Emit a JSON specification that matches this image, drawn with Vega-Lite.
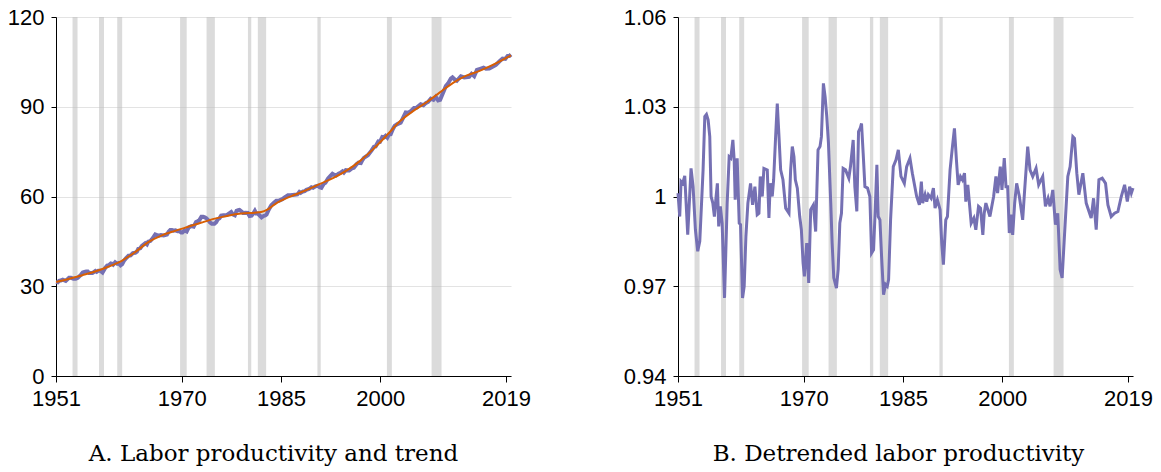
{
 "$schema": "https://vega.github.io/schema/vega-lite/v6.json",
 "background": "white",
 "padding": {"left": 7, "top": 6, "right": 5, "bottom": 5},
 "spacing": 167,
 "bounds": "flush",
 "datasets": {
  "rec": [{"s":1953.5,"e":1954.25},{"s":1957.5,"e":1958.25},{"s":1960.25,"e":1961.0},{"s":1969.75,"e":1970.75},{"s":1973.75,"e":1975.0},{"s":1980.0,"e":1980.5},{"s":1981.5,"e":1982.75},{"s":1990.5,"e":1991.0},{"s":2001.0,"e":2001.75},{"s":2007.75,"e":2009.25}],
  "trend": [{"t":1951,"v":31.4},{"t":1953,"v":32.5},{"t":1955,"v":33.7},{"t":1957,"v":35.0},{"t":1959,"v":36.6},{"t":1961,"v":38.6},{"t":1963,"v":41.5},{"t":1965,"v":44.8},{"t":1967,"v":47.0},{"t":1969,"v":48.5},{"t":1971,"v":49.9},{"t":1973,"v":51.3},{"t":1975,"v":52.6},{"t":1977,"v":53.6},{"t":1979,"v":54.3},{"t":1981,"v":54.6},{"t":1982,"v":54.8},{"t":1983,"v":55.7},{"t":1984,"v":57.3},{"t":1985,"v":58.6},{"t":1986,"v":59.6},{"t":1987,"v":60.5},{"t":1989,"v":62.3},{"t":1991,"v":64.3},{"t":1993,"v":66.3},{"t":1995,"v":68.8},{"t":1997,"v":72.0},{"t":1999,"v":76.0},{"t":2001,"v":80.5},{"t":2003,"v":85.2},{"t":2005,"v":88.6},{"t":2007,"v":91.5},{"t":2009,"v":94.8},{"t":2011,"v":98.0},{"t":2013,"v":100.4},{"t":2015,"v":102.0},{"t":2017,"v":104.0},{"t":2019.75,"v":107.2}],
  "prod": [{"t":1951.0,"v":31.4},{"t":1951.26,"v":31.3},{"t":1951.46,"v":31.8},{"t":1951.71,"v":31.9},{"t":1952.02,"v":32.2},{"t":1952.47,"v":31.8},{"t":1952.97,"v":32.8},{"t":1953.28,"v":32.8},{"t":1953.63,"v":32.5},{"t":1953.98,"v":32.5},{"t":1954.29,"v":32.8},{"t":1954.79,"v":33.9},{"t":1955.05,"v":34.6},{"t":1955.3,"v":34.8},{"t":1955.55,"v":34.9},{"t":1955.8,"v":34.9},{"t":1956.0,"v":34.4},{"t":1956.26,"v":34.4},{"t":1956.5,"v":34.4},{"t":1956.76,"v":34.8},{"t":1956.95,"v":35.1},{"t":1957.15,"v":34.8},{"t":1957.4,"v":35.2},{"t":1957.67,"v":35.2},{"t":1958.03,"v":34.6},{"t":1958.43,"v":36.1},{"t":1958.73,"v":36.9},{"t":1958.98,"v":37.0},{"t":1959.29,"v":37.6},{"t":1959.49,"v":37.5},{"t":1959.64,"v":37.2},{"t":1959.94,"v":38.0},{"t":1960.25,"v":37.5},{"t":1960.45,"v":37.7},{"t":1960.75,"v":37.0},{"t":1961.0,"v":37.4},{"t":1961.26,"v":38.5},{"t":1961.56,"v":39.3},{"t":1961.96,"v":40.2},{"t":1962.27,"v":40.3},{"t":1962.62,"v":41.1},{"t":1962.97,"v":41.2},{"t":1963.23,"v":41.6},{"t":1963.43,"v":42.5},{"t":1963.73,"v":42.7},{"t":1963.98,"v":43.5},{"t":1964.49,"v":44.4},{"t":1964.74,"v":44.0},{"t":1964.94,"v":44.9},{"t":1965.24,"v":45.1},{"t":1965.45,"v":45.6},{"t":1965.75,"v":46.5},{"t":1966.0,"v":47.3},{"t":1966.26,"v":47.1},{"t":1966.51,"v":46.9},{"t":1966.86,"v":47.1},{"t":1967.27,"v":47.0},{"t":1967.77,"v":47.3},{"t":1968.02,"v":48.2},{"t":1968.27,"v":48.8},{"t":1968.52,"v":48.8},{"t":1968.73,"v":48.6},{"t":1969.03,"v":48.7},{"t":1969.39,"v":48.4},{"t":1969.64,"v":48.4},{"t":1969.9,"v":48.0},{"t":1970.1,"v":48.0},{"t":1970.45,"v":48.7},{"t":1970.75,"v":48.3},{"t":1971.05,"v":49.7},{"t":1971.46,"v":50.1},{"t":1971.8,"v":49.9},{"t":1972.16,"v":51.5},{"t":1972.46,"v":51.8},{"t":1972.67,"v":52.1},{"t":1972.97,"v":53.2},{"t":1973.23,"v":53.2},{"t":1973.48,"v":53.0},{"t":1973.73,"v":52.7},{"t":1974.08,"v":51.9},{"t":1974.29,"v":51.3},{"t":1974.54,"v":50.9},{"t":1974.94,"v":50.9},{"t":1975.2,"v":51.4},{"t":1975.45,"v":52.4},{"t":1975.7,"v":52.7},{"t":1975.95,"v":53.6},{"t":1976.31,"v":53.7},{"t":1976.81,"v":53.8},{"t":1977.06,"v":54.2},{"t":1977.47,"v":54.8},{"t":1977.72,"v":54.0},{"t":1978.02,"v":53.7},{"t":1978.28,"v":55.2},{"t":1978.53,"v":55.4},{"t":1978.73,"v":55.5},{"t":1978.98,"v":55.1},{"t":1979.24,"v":54.5},{"t":1979.64,"v":54.6},{"t":1979.99,"v":54.5},{"t":1980.25,"v":53.5},{"t":1980.55,"v":53.6},{"t":1980.8,"v":54.3},{"t":1981.05,"v":55.2},{"t":1981.26,"v":54.3},{"t":1981.51,"v":54.3},{"t":1981.76,"v":53.7},{"t":1982.06,"v":53.0},{"t":1982.37,"v":53.5},{"t":1982.62,"v":53.7},{"t":1982.82,"v":54.0},{"t":1983.12,"v":55.5},{"t":1983.53,"v":57.1},{"t":1983.93,"v":57.9},{"t":1984.29,"v":58.6},{"t":1984.69,"v":58.6},{"t":1985.2,"v":59.1},{"t":1985.55,"v":59.7},{"t":1986.05,"v":60.4},{"t":1986.41,"v":60.4},{"t":1987.06,"v":60.6},{"t":1987.47,"v":60.7},{"t":1987.77,"v":61.5},{"t":1987.97,"v":61.2},{"t":1988.33,"v":61.7},{"t":1988.58,"v":61.8},{"t":1988.83,"v":62.2},{"t":1989.24,"v":62.5},{"t":1989.59,"v":63.1},{"t":1989.84,"v":62.9},{"t":1990.2,"v":63.4},{"t":1990.6,"v":63.6},{"t":1990.85,"v":63.1},{"t":1991.1,"v":62.9},{"t":1991.46,"v":64.3},{"t":1991.71,"v":64.6},{"t":1992.11,"v":66.0},{"t":1992.47,"v":66.9},{"t":1992.77,"v":67.6},{"t":1993.07,"v":67.2},{"t":1993.33,"v":67.0},{"t":1993.68,"v":67.6},{"t":1993.98,"v":67.9},{"t":1994.29,"v":68.4},{"t":1994.49,"v":68.0},{"t":1994.79,"v":68.8},{"t":1995.3,"v":68.7},{"t":1995.7,"v":69.4},{"t":1996.0,"v":69.6},{"t":1996.41,"v":70.8},{"t":1996.71,"v":71.3},{"t":1997.06,"v":71.2},{"t":1997.27,"v":72.1},{"t":1997.52,"v":72.9},{"t":1998.13,"v":73.8},{"t":1998.69,"v":75.4},{"t":1999.04,"v":76.6},{"t":1999.29,"v":76.7},{"t":1999.7,"v":78.4},{"t":1999.95,"v":78.3},{"t":2000.3,"v":79.9},{"t":2000.56,"v":79.8},{"t":2000.81,"v":80.3},{"t":2001.06,"v":79.7},{"t":2001.31,"v":80.7},{"t":2001.57,"v":80.8},{"t":2001.87,"v":82.4},{"t":2002.17,"v":83.6},{"t":2002.58,"v":84.2},{"t":2003.08,"v":84.7},{"t":2003.38,"v":86.0},{"t":2003.84,"v":88.1},{"t":2004.19,"v":88.0},{"t":2004.6,"v":88.5},{"t":2005.1,"v":89.6},{"t":2005.5,"v":89.7},{"t":2006.11,"v":90.8},{"t":2006.52,"v":90.5},{"t":2006.92,"v":91.3},{"t":2007.22,"v":91.6},{"t":2007.63,"v":92.7},{"t":2008.03,"v":92.3},{"t":2008.38,"v":93.3},{"t":2008.74,"v":92.1},{"t":2009.04,"v":92.3},{"t":2009.39,"v":94.2},{"t":2009.9,"v":96.9},{"t":2010.25,"v":97.8},{"t":2010.66,"v":99.4},{"t":2010.91,"v":99.8},{"t":2011.26,"v":99.1},{"t":2011.57,"v":98.7},{"t":2012.17,"v":100.2},{"t":2012.68,"v":99.8},{"t":2013.43,"v":100.0},{"t":2013.79,"v":101.0},{"t":2014.19,"v":100.2},{"t":2014.6,"v":102.3},{"t":2015.1,"v":102.7},{"t":2015.6,"v":103.1},{"t":2015.96,"v":102.7},{"t":2016.46,"v":102.8},{"t":2016.97,"v":103.4},{"t":2017.47,"v":104.0},{"t":2017.98,"v":105.1},{"t":2018.48,"v":106.1},{"t":2018.89,"v":106.0},{"t":2019.24,"v":107.0},{"t":2019.5,"v":107.0},{"t":2019.75,"v":107.5}],
  "detr": [{"t":1951.0,"v":1.0011},{"t":1951.26,"v":0.9933},{"t":1951.46,"v":1.005},{"t":1951.71,"v":1.0044},{"t":1952.02,"v":1.0069},{"t":1952.47,"v":0.9872},{"t":1952.97,"v":1.0094},{"t":1953.28,"v":1.0033},{"t":1953.63,"v":0.9889},{"t":1953.98,"v":0.9817},{"t":1954.29,"v":0.985},{"t":1954.79,"v":1.0089},{"t":1955.05,"v":1.0267},{"t":1955.3,"v":1.0274},{"t":1955.55,"v":1.0256},{"t":1955.8,"v":1.02},{"t":1956.0,"v":1.0},{"t":1956.26,"v":0.9978},{"t":1956.5,"v":0.9933},{"t":1956.76,"v":1.0},{"t":1956.95,"v":1.0044},{"t":1957.15,"v":0.99},{"t":1957.4,"v":0.9967},{"t":1957.67,"v":0.9911},{"t":1958.03,"v":0.9661},{"t":1958.43,"v":0.9978},{"t":1958.73,"v":1.0133},{"t":1958.98,"v":1.0128},{"t":1959.29,"v":1.0189},{"t":1959.49,"v":1.0122},{"t":1959.64,"v":0.9989},{"t":1959.94,"v":1.0128},{"t":1960.25,"v":0.9911},{"t":1960.45,"v":0.9906},{"t":1960.75,"v":0.9661},{"t":1961.0,"v":0.97},{"t":1961.26,"v":0.9867},{"t":1961.56,"v":0.9978},{"t":1961.96,"v":1.0044},{"t":1962.27,"v":0.9972},{"t":1962.62,"v":1.0033},{"t":1962.97,"v":0.9939},{"t":1963.23,"v":0.9944},{"t":1963.43,"v":1.0067},{"t":1963.73,"v":1.0},{"t":1963.98,"v":1.0094},{"t":1964.49,"v":1.0089},{"t":1964.74,"v":0.9928},{"t":1964.94,"v":1.0044},{"t":1965.24,"v":1.0},{"t":1965.45,"v":1.0056},{"t":1965.75,"v":1.02},{"t":1966.0,"v":1.0311},{"t":1966.26,"v":1.02},{"t":1966.51,"v":1.0089},{"t":1966.86,"v":1.0056},{"t":1967.27,"v":0.9961},{"t":1967.77,"v":0.9944},{"t":1968.02,"v":1.0089},{"t":1968.27,"v":1.0167},{"t":1968.52,"v":1.0133},{"t":1968.73,"v":1.0056},{"t":1969.03,"v":1.0028},{"t":1969.39,"v":0.9933},{"t":1969.64,"v":0.9889},{"t":1969.9,"v":0.9778},{"t":1970.1,"v":0.9733},{"t":1970.45,"v":0.9844},{"t":1970.75,"v":0.9711},{"t":1971.05,"v":0.9956},{"t":1971.46,"v":0.9972},{"t":1971.8,"v":0.9883},{"t":1972.16,"v":1.0156},{"t":1972.46,"v":1.0167},{"t":1972.67,"v":1.02},{"t":1972.97,"v":1.0378},{"t":1973.23,"v":1.0333},{"t":1973.48,"v":1.0267},{"t":1973.73,"v":1.018},{"t":1974.08,"v":0.9978},{"t":1974.29,"v":0.9844},{"t":1974.54,"v":0.9728},{"t":1974.94,"v":0.9694},{"t":1975.2,"v":0.9756},{"t":1975.45,"v":0.9911},{"t":1975.7,"v":0.9944},{"t":1975.95,"v":1.0094},{"t":1976.31,"v":1.0089},{"t":1976.81,"v":1.0061},{"t":1977.06,"v":1.01},{"t":1977.47,"v":1.0189},{"t":1977.72,"v":1.0033},{"t":1978.02,"v":0.995},{"t":1978.28,"v":1.0217},{"t":1978.53,"v":1.0228},{"t":1978.73,"v":1.0244},{"t":1978.98,"v":1.0144},{"t":1979.24,"v":1.0033},{"t":1979.64,"v":1.0028},{"t":1979.99,"v":1.0},{"t":1980.25,"v":0.9811},{"t":1980.55,"v":0.9822},{"t":1980.8,"v":0.9956},{"t":1981.05,"v":1.0106},{"t":1981.26,"v":0.9933},{"t":1981.51,"v":0.9922},{"t":1981.76,"v":0.98},{"t":1982.06,"v":0.9672},{"t":1982.37,"v":0.9706},{"t":1982.62,"v":0.97},{"t":1982.82,"v":0.9722},{"t":1983.12,"v":0.9922},{"t":1983.53,"v":1.01},{"t":1983.93,"v":1.0122},{"t":1984.29,"v":1.0156},{"t":1984.69,"v":1.0067},{"t":1985.2,"v":1.0044},{"t":1985.55,"v":1.01},{"t":1986.05,"v":1.0128},{"t":1986.41,"v":1.0078},{"t":1987.06,"v":1.0},{"t":1987.47,"v":0.9972},{"t":1987.77,"v":1.005},{"t":1987.97,"v":0.9978},{"t":1988.33,"v":1.0006},{"t":1988.58,"v":0.9983},{"t":1988.83,"v":1.0006},{"t":1989.24,"v":0.9994},{"t":1989.59,"v":1.0028},{"t":1989.84,"v":0.9961},{"t":1990.2,"v":0.9989},{"t":1990.6,"v":0.9956},{"t":1990.85,"v":0.9844},{"t":1991.1,"v":0.9772},{"t":1991.46,"v":0.9922},{"t":1991.71,"v":0.9933},{"t":1992.11,"v":1.0089},{"t":1992.47,"v":1.0167},{"t":1992.77,"v":1.0228},{"t":1993.07,"v":1.0122},{"t":1993.33,"v":1.0039},{"t":1993.68,"v":1.0067},{"t":1993.98,"v":1.0056},{"t":1994.29,"v":1.0078},{"t":1994.49,"v":0.9983},{"t":1994.79,"v":1.0039},{"t":1995.3,"v":0.9911},{"t":1995.7,"v":0.9928},{"t":1996.0,"v":0.9889},{"t":1996.41,"v":0.9967},{"t":1996.71,"v":0.9961},{"t":1997.06,"v":0.9872},{"t":1997.27,"v":0.9944},{"t":1997.52,"v":0.9978},{"t":1998.13,"v":0.9933},{"t":1998.69,"v":1.0},{"t":1999.04,"v":1.0067},{"t":1999.29,"v":1.0011},{"t":1999.7,"v":1.01},{"t":1999.95,"v":1.0022},{"t":2000.3,"v":1.0128},{"t":2000.56,"v":1.0033},{"t":2000.81,"v":1.0033},{"t":2001.06,"v":0.9878},{"t":2001.31,"v":0.9939},{"t":2001.57,"v":0.9872},{"t":2001.87,"v":0.9978},{"t":2002.17,"v":1.0044},{"t":2002.58,"v":1.0},{"t":2003.08,"v":0.9922},{"t":2003.38,"v":1.0022},{"t":2003.84,"v":1.0167},{"t":2004.19,"v":1.0089},{"t":2004.6,"v":1.0067},{"t":2005.1,"v":1.0094},{"t":2005.5,"v":1.0039},{"t":2006.11,"v":1.0067},{"t":2006.52,"v":0.9967},{"t":2006.92,"v":0.9994},{"t":2007.22,"v":0.9967},{"t":2007.63,"v":1.0022},{"t":2008.03,"v":0.9906},{"t":2008.38,"v":0.9944},{"t":2008.74,"v":0.9756},{"t":2009.04,"v":0.9728},{"t":2009.39,"v":0.9867},{"t":2009.9,"v":1.0067},{"t":2010.25,"v":1.01},{"t":2010.66,"v":1.02},{"t":2010.91,"v":1.0194},{"t":2011.26,"v":1.0078},{"t":2011.57,"v":1.0006},{"t":2012.17,"v":1.0078},{"t":2012.68,"v":0.9978},{"t":2013.43,"v":0.9928},{"t":2013.79,"v":0.9994},{"t":2014.19,"v":0.9889},{"t":2014.6,"v":1.0056},{"t":2015.1,"v":1.0061},{"t":2015.6,"v":1.0044},{"t":2015.96,"v":0.9972},{"t":2016.46,"v":0.9933},{"t":2016.97,"v":0.9944},{"t":2017.47,"v":0.995},{"t":2017.98,"v":1.0},{"t":2018.48,"v":1.0039},{"t":2018.89,"v":0.9983},{"t":2019.24,"v":1.0033},{"t":2019.5,"v":1.0011},{"t":2019.75,"v":1.0028}]
 },
 "hconcat": [
  {
   "width": 455, "height": 359,
   "title": {"text": "A. Labor productivity and trend", "orient": "bottom", "anchor": "middle", "dx": -10, "offset": 34},
   "layer": [
    {"data": {"name": "rec"}, "mark": {"type": "rect", "color": "#bdbdbd", "opacity": 0.55},
     "encoding": {
      "x": {"field": "s", "type": "quantitative", "scale": {"domain": [1951, 2019.75], "nice": false, "zero": false},
            "axis": {"values": [1951, 1970, 1985, 2000, 2019], "format": "d"}},
      "x2": {"field": "e"}}},
    {"data": {"name": "prod"}, "mark": {"type": "line", "color": "#7570b3", "strokeWidth": 4},
     "encoding": {
      "x": {"field": "t", "type": "quantitative"},
      "y": {"field": "v", "type": "quantitative", "scale": {"domain": [0, 120], "nice": false, "zero": false},
            "axis": {"values": [0, 30, 60, 90, 120]}}}},
    {"data": {"name": "trend"}, "mark": {"type": "line", "color": "#d95f02", "strokeWidth": 2, "interpolate": "monotone"},
     "encoding": {
      "x": {"field": "t", "type": "quantitative"},
      "y": {"field": "v", "type": "quantitative"}}}
   ]
  },
  {
   "width": 455, "height": 359,
   "title": {"text": "B. Detrended labor productivity", "orient": "bottom", "anchor": "middle", "dx": -7, "offset": 34},
   "layer": [
    {"data": {"name": "rec"}, "mark": {"type": "rect", "color": "#bdbdbd", "opacity": 0.55},
     "encoding": {
      "x": {"field": "s", "type": "quantitative", "scale": {"domain": [1951, 2019.75], "nice": false, "zero": false},
            "axis": {"values": [1951, 1970, 1985, 2000, 2019], "format": "d"}},
      "x2": {"field": "e"}}},
    {"data": {"name": "detr"}, "mark": {"type": "line", "color": "#7570b3", "strokeWidth": 3},
     "encoding": {
      "x": {"field": "t", "type": "quantitative"},
      "y": {"field": "v", "type": "quantitative", "scale": {"domain": [0.94, 1.06], "nice": false, "zero": false},
            "axis": {"values": [0.94, 0.97, 1, 1.03, 1.06], "format": "~g"}}}}
   ]
  }
 ],
 "config": {
  "view": {"stroke": null},
  "title": {"font": "DejaVu Serif", "fontSize": 23, "fontWeight": "normal", "color": "#000000"},
  "axis": {"labelFont": "Liberation Sans", "labelFontSize": 22, "labelColor": "#000000", "domainColor": "#000000", "tickColor": "#000000", "title": null, "gridColor": "#e3e3e3", "labelFlush": false, "labelOverlap": false, "labelBound": false},
  "axisX": {"grid": false, "tickSize": 6, "labelPadding": 6},
  "axisY": {"grid": true, "tickSize": 5, "labelPadding": 7}
 }
}
